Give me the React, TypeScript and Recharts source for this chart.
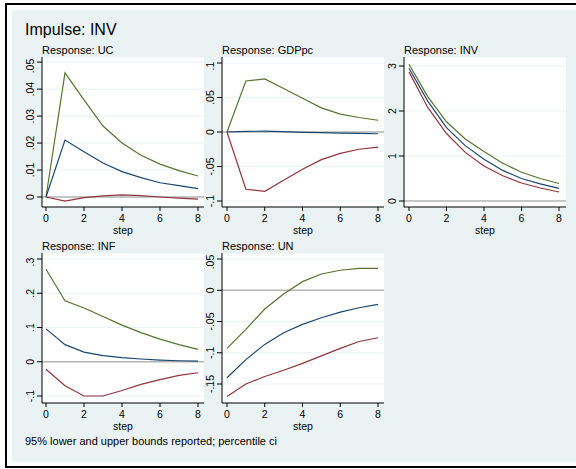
import React from "react";
import { LineChart, Line, XAxis, YAxis, CartesianGrid, ReferenceLine } from "recharts";

const steps = [0, 1, 2, 3, 4, 5, 6, 7, 8];

const ucIrf = [0, 0.0211, 0.0168, 0.0126, 0.0094, 0.0072, 0.0053, 0.0042, 0.0031];
const ucLo = [0, -0.0015, -0.0002, 0.0004, 0.0008, 0.0005, 0.0, -0.0004, -0.0008];
const ucHi = [0, 0.046, 0.036, 0.0263, 0.02, 0.0155, 0.0122, 0.0098, 0.0078];

const gdpIrf = [0, 0.001, 0.0012, 0.0005, -0.0005, -0.001, -0.0015, -0.002, -0.0025];
const gdpLo = [0, -0.083, -0.086, -0.07, -0.054, -0.04, -0.031, -0.025, -0.022];
const gdpHi = [0, 0.074, 0.077, 0.063, 0.049, 0.035, 0.026, 0.021, 0.017];

const invIrf = [2.95, 2.22, 1.63, 1.23, 0.93, 0.68, 0.5, 0.38, 0.28];
const invLo = [2.87, 2.08, 1.5, 1.08, 0.78, 0.56, 0.4, 0.29, 0.2];
const invHi = [3.04, 2.32, 1.76, 1.38, 1.1, 0.84, 0.64, 0.5, 0.39];

const infIrf = [0.096, 0.05, 0.028, 0.018, 0.012, 0.008, 0.005, 0.003, 0.002];
const infLo = [-0.022, -0.07, -0.1, -0.1, -0.084, -0.066, -0.052, -0.04, -0.032];
const infHi = [0.27, 0.178, 0.157, 0.132, 0.107, 0.085, 0.066, 0.05, 0.036];

const unIrf = [-0.14, -0.111, -0.0866, -0.068, -0.0546, -0.044, -0.035, -0.028, -0.0226];
const unLo = [-0.17, -0.15, -0.138, -0.128, -0.117, -0.105, -0.093, -0.082, -0.076];
const unHi = [-0.093, -0.0625, -0.03, -0.006, 0.0138, 0.026, 0.032, 0.035, 0.035];

const xTicks = [0, 2, 4, 6, 8];
const ucTicks = [0, 0.01, 0.02, 0.03, 0.04, 0.05];
const gdpTicks = [-0.1, -0.05, 0, 0.05, 0.1];
const invTicks = [0, 1, 2, 3];
const infTicks = [-0.1, 0, 0.1, 0.2, 0.3];
const unTicks = [-0.15, -0.1, -0.05, 0, 0.05];

const FONT = "'Liberation Sans', Arial, sans-serif";
const BG = "#eaf2f3";

const fmt = (v: number) => (v === 0 ? "0" : String(v).replace("0.", "."));

// stata style: y labels turned to read upward
const YTick = ({ x, y, payload }: any) => (
  <text x={x} y={y} transform={`rotate(-90 ${x} ${y})`} textAnchor="middle" fontSize={10.5} fill="#000" fontFamily={FONT}>
    {fmt(payload.value)}
  </text>
);

function Panel({ title, left, top, lo, irf, hi, domain, ticks, padL, padR }: any) {
  const data = steps.map((s, i) => ({ step: s, lo: lo[i], irf: irf[i], hi: hi[i] }));
  const yw = 30;
  const xh = 30;
  const plotW = 162;
  const plotH = 150;
  return (
    <>
      <div style={{ position: "absolute", left: left, top: top - 12, fontSize: 11, lineHeight: 1, fontFamily: FONT, whiteSpace: "nowrap" }}>
        {title}
      </div>
      <div style={{ position: "absolute", left: left - yw, top: top }}>
        <LineChart width={yw + plotW} height={plotH + xh} data={data} margin={{ top: 0, right: 0, left: 0, bottom: 0 }}>
          <CartesianGrid vertical={false} stroke={BG} fill="#fff" fillOpacity={1} />
          <XAxis
            dataKey="step"
            type="number"
            domain={[0, 8]}
            ticks={xTicks}
            padding={{ left: padL, right: padR }}
            height={xh}
            tickSize={4}
            tickMargin={4}
            stroke="#000"
            tick={{ fontSize: 10.5, fill: "#000", fontFamily: FONT }}
            label={{ value: "step", position: "insideBottom", offset: 3, fontSize: 10.5, fill: "#000", fontFamily: FONT }}
          />
          <YAxis
            type="number"
            domain={domain}
            ticks={ticks}
            width={yw}
            tickSize={5}
            tickMargin={3}
            stroke="#000"
            tick={<YTick />}
            allowDataOverflow
          />
          <ReferenceLine y={0} stroke="#b4b4b4" strokeWidth={1.5} />
          <Line dataKey="hi" stroke="#55752f" strokeWidth={1.2} dot={false} isAnimationActive={false} />
          <Line dataKey="irf" stroke="#1a476f" strokeWidth={1.2} dot={false} isAnimationActive={false} />
          <Line dataKey="lo" stroke="#90353b" strokeWidth={1.2} dot={false} isAnimationActive={false} />
        </LineChart>
      </div>
    </>
  );
}

export default function App() {
  return (
    <div style={{ position: "absolute", left: 0, top: 0, width: 576, height: 469, overflow: "hidden", background: "#fff", fontFamily: FONT }}>
      <div style={{ position: "absolute", left: 5, top: 3, width: 590, height: 465, border: "2px solid #000", boxSizing: "border-box" }} />
      <div style={{ position: "absolute", left: 12, top: 10, width: 580, height: 452, background: BG }} />
      <div style={{ position: "absolute", left: 25, top: 22, fontSize: 16, lineHeight: 1, whiteSpace: "nowrap" }}>Impulse: INV</div>
      <Panel title="Response: UC" left={42} top={57} lo={ucLo} irf={ucIrf} hi={ucHi} domain={[-0.0037, 0.0519]} ticks={ucTicks} padL={4} padR={6} />
      <Panel title="Response: GDPpc" left={222} top={57} lo={gdpLo} irf={gdpIrf} hi={gdpHi} domain={[-0.1087, 0.1087]} ticks={gdpTicks} padL={5} padR={6} />
      <Panel title="Response: INV" left={404} top={57} lo={invLo} irf={invIrf} hi={invHi} domain={[-0.133, 3.2]} ticks={invTicks} padL={5} padR={7} />
      <Panel title="Response: INF" left={42} top={253} lo={infLo} irf={infIrf} hi={infHi} domain={[-0.1204, 0.3175]} ticks={infTicks} padL={4} padR={6} />
      <Panel title="Response: UN" left={222} top={253} lo={unLo} irf={unIrf} hi={unHi} domain={[-0.1804, 0.0596]} ticks={unTicks} padL={5} padR={6} />
      <div style={{ position: "absolute", left: 25, top: 436, fontSize: 11, lineHeight: 1, whiteSpace: "nowrap" }}>
        95% lower and upper bounds reported; percentile ci
      </div>
    </div>
  );
}
